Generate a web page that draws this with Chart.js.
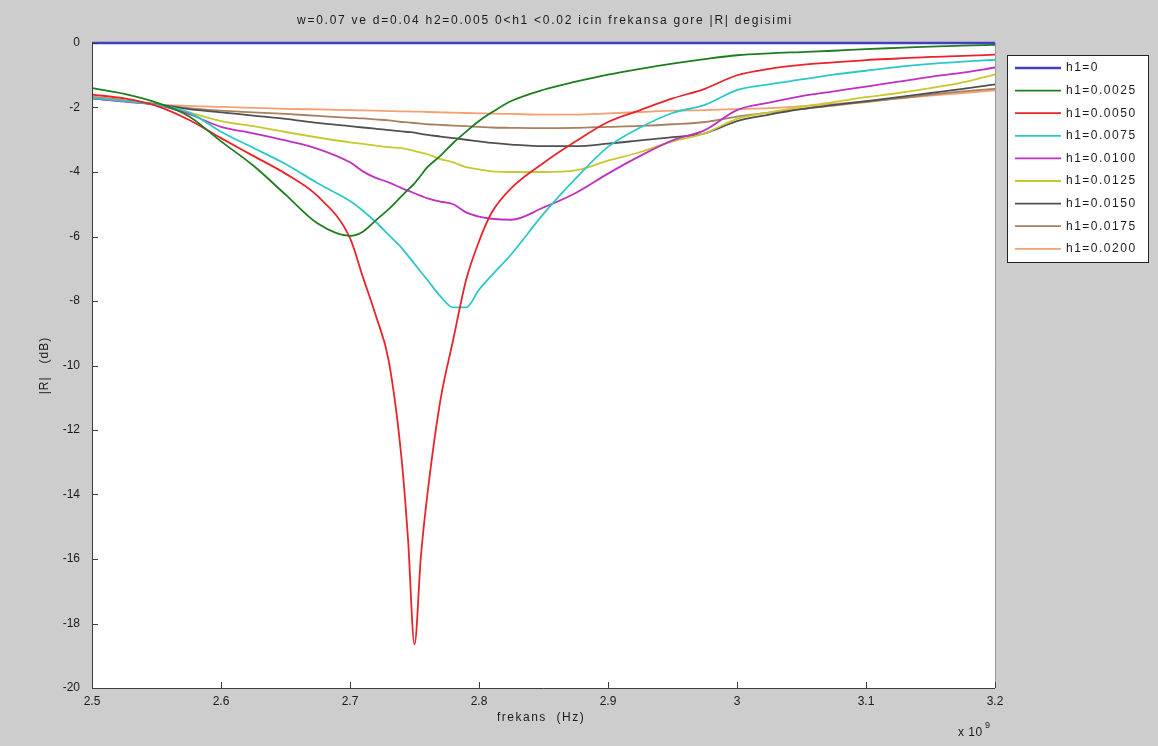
<!DOCTYPE html>
<html>
<head>
<meta charset="utf-8">
<script src="https://cdn.jsdelivr.net/npm/chart.js@4.4.0/dist/chart.umd.min.js"></script>
<style>
html,body{margin:0;padding:0;background:#cdcdcd;}
#wrap{width:1158px;height:746px;position:relative;}
</style>
</head>
<body>
<div id="wrap"><canvas id="c" width="1158" height="746"></canvas></div>
<script>
const titleText = "w=0.07 ve d=0.04 h2=0.005 0<h1 <0.02 icin frekansa gore |R| degisimi";
const xTitle = "frekans  (Hz)";
const yTitle = "|R|   (dB)";
const xTicks = [2.5, 2.6, 2.7, 2.8, 2.9, 3.0, 3.1, 3.2];
const yTicks = [0, -2, -4, -6, -8, -10, -12, -14, -16, -18, -20];
const labels = ["h1=0","h1=0.0025","h1=0.0050","h1=0.0075","h1=0.0100","h1=0.0125","h1=0.0150","h1=0.0175","h1=0.0200"];
const colors = ["#4040c0","#1e7d1e","#e8242a","#2cc8c8","#c030c0","#c8c830","#505050","#a88060","#f5a070"];

const freq = [2.5,2.525,2.55,2.575,2.6,2.625,2.65,2.675,2.7,2.71,2.72,2.73,2.74,2.745,2.75,2.755,2.76,2.77,2.78,2.79,2.8,2.81,2.825,2.85,2.875,2.9,2.925,2.95,2.975,3.0,3.025,3.05,3.075,3.1,3.125,3.15,3.175,3.2];

const h0 = [0,0,0,0,0,0,0,0,0,0,0,0,0,0,0,0,0,0,0,0,0,0,0,0,0,0,0,0,0,0,0,0,0,0,0,0,0,0];
const h0025 = [-1.40,-1.58,-1.85,-2.27,-3.05,-3.80,-4.70,-5.60,-5.98,-5.85,-5.50,-5.15,-4.75,-4.55,-4.35,-4.10,-3.85,-3.50,-3.10,-2.75,-2.42,-2.15,-1.80,-1.45,-1.20,-0.98,-0.80,-0.64,-0.50,-0.38,-0.32,-0.28,-0.24,-0.19,-0.15,-0.11,-0.08,-0.06];
const h0050 = [-1.60,-1.72,-1.95,-2.38,-2.95,-3.50,-4.05,-4.75,-6.05,-7.26,-8.45,-9.85,-12.9,-15.4,-18.65,-15.9,-14.0,-11.1,-9.2,-7.35,-6.15,-5.25,-4.50,-3.72,-3.05,-2.45,-2.08,-1.72,-1.42,-1.00,-0.80,-0.68,-0.60,-0.53,-0.48,-0.43,-0.40,-0.36];
const h0075 = [-1.70,-1.80,-1.92,-2.15,-2.75,-3.25,-3.75,-4.35,-4.90,-5.20,-5.55,-5.95,-6.35,-6.60,-6.85,-7.10,-7.35,-7.85,-8.20,-8.20,-7.65,-7.20,-6.55,-5.30,-4.20,-3.22,-2.62,-2.17,-1.92,-1.46,-1.28,-1.13,-0.98,-0.86,-0.74,-0.65,-0.58,-0.52];
const h0100 = [-1.72,-1.82,-1.92,-2.20,-2.60,-2.80,-3.02,-3.28,-3.70,-3.98,-4.18,-4.32,-4.50,-4.58,-4.66,-4.74,-4.82,-4.92,-5.00,-5.25,-5.38,-5.45,-5.48,-5.10,-4.65,-4.05,-3.50,-3.02,-2.70,-2.08,-1.85,-1.65,-1.50,-1.35,-1.20,-1.05,-0.92,-0.76];
const h0125 = [-1.70,-1.80,-1.92,-2.15,-2.42,-2.58,-2.76,-2.93,-3.08,-3.13,-3.18,-3.23,-3.26,-3.30,-3.35,-3.40,-3.45,-3.60,-3.70,-3.85,-3.92,-3.98,-4.00,-4.00,-3.95,-3.65,-3.38,-3.05,-2.80,-2.35,-2.15,-1.98,-1.83,-1.68,-1.55,-1.40,-1.22,-0.97];
const h0150 = [-1.72,-1.80,-1.90,-2.05,-2.15,-2.25,-2.35,-2.48,-2.58,-2.62,-2.66,-2.70,-2.74,-2.76,-2.78,-2.82,-2.85,-2.90,-2.95,-3.00,-3.05,-3.10,-3.15,-3.20,-3.20,-3.12,-3.02,-2.92,-2.80,-2.42,-2.22,-2.05,-1.92,-1.80,-1.68,-1.55,-1.42,-1.28];
const h0175 = [-1.68,-1.78,-1.90,-2.02,-2.10,-2.15,-2.20,-2.26,-2.32,-2.34,-2.37,-2.40,-2.45,-2.46,-2.48,-2.50,-2.52,-2.54,-2.56,-2.58,-2.60,-2.62,-2.63,-2.64,-2.63,-2.60,-2.57,-2.52,-2.45,-2.28,-2.16,-2.04,-1.94,-1.83,-1.72,-1.60,-1.50,-1.42];
const h0200 = [-1.65,-1.78,-1.90,-1.95,-1.98,-2.01,-2.04,-2.06,-2.08,-2.09,-2.10,-2.11,-2.12,-2.12,-2.13,-2.13,-2.14,-2.15,-2.16,-2.17,-2.18,-2.19,-2.20,-2.22,-2.22,-2.18,-2.14,-2.10,-2.08,-2.05,-2.02,-1.96,-1.89,-1.82,-1.72,-1.63,-1.55,-1.47];

const series = [h0,h0025,h0050,h0075,h0100,h0125,h0150,h0175,h0200];

const datasets = series.map((vals, i) => ({
  label: labels[i],
  data: freq.map((f, j) => ({x: f, y: vals[j]})),
  borderColor: colors[i],
  backgroundColor: colors[i],
  borderWidth: i === 0 ? 2.5 : 1.8,
  pointRadius: 0,
  cubicInterpolationMode: 'monotone',
  fill: false,
  clip: 3
}));

const FONT = "'Liberation Sans', Arial, sans-serif";

function spacedText(ctx, text, x, y, spacing) {
  if ('letterSpacing' in ctx) {
    ctx.letterSpacing = spacing + 'px';
    ctx.fillText(text, x, y);
    ctx.letterSpacing = '0px';
  } else {
    ctx.fillText(text, x, y);
  }
}

const decor = {
  id: 'decor',
  beforeDraw(chart) {
    const ctx = chart.ctx, a = chart.chartArea;
    ctx.save();
    ctx.fillStyle = '#cdcdcd';
    ctx.fillRect(0, 0, chart.width, chart.height);
    ctx.fillStyle = '#ffffff';
    ctx.fillRect(a.left, a.top, a.right - a.left, a.bottom - a.top);
    ctx.restore();
  },
  afterDraw(chart) {
    const ctx = chart.ctx, a = chart.chartArea;
    const xs = chart.scales.x, ys = chart.scales.y;
    ctx.save();
    ctx.strokeStyle = '#9a9a9a';
    ctx.lineWidth = 1;
    ctx.beginPath();
    ctx.moveTo(a.right + 0.5, a.top);
    ctx.lineTo(a.right + 0.5, a.bottom);
    ctx.stroke();
    ctx.strokeStyle = '#3c3c3c';
    ctx.beginPath();
    ctx.moveTo(a.left + 0.5, a.top);
    ctx.lineTo(a.left + 0.5, a.bottom + 0.5);
    ctx.lineTo(a.right, a.bottom + 0.5);
    ctx.stroke();
    ctx.beginPath();
    yTicks.forEach(v => {
      const y = Math.round(ys.getPixelForValue(v)) + 0.5;
      ctx.moveTo(a.left, y); ctx.lineTo(a.left + 6, y);
    });
    xTicks.forEach(v => {
      const x = Math.round(xs.getPixelForValue(v)) + 0.5;
      ctx.moveTo(x, a.bottom); ctx.lineTo(x, a.bottom - 6);
    });
    ctx.stroke();
    ctx.fillStyle = '#1a1a1a';
    ctx.font = '12px ' + FONT;
    ctx.textAlign = 'left';
    ctx.textBaseline = 'middle';
    spacedText(ctx, titleText, 297, 21, 1.75);
    spacedText(ctx, xTitle, 497, 718, 1.5);
    spacedText(ctx, 'x 10', 958, 733, 0.5);
    ctx.font = '9px ' + FONT;
    ctx.fillText('9', 985, 726);
    ctx.font = '12px ' + FONT;
    ctx.save();
    ctx.translate(45, (a.top + a.bottom) / 2);
    ctx.rotate(-Math.PI / 2);
    ctx.textAlign = 'center';
    spacedText(ctx, yTitle, 0, 0, 1);
    ctx.restore();
    const lx = 1007, ly = 55, lw = 141, lh = 207;
    ctx.fillStyle = '#ffffff';
    ctx.fillRect(lx, ly, lw, lh);
    ctx.strokeStyle = '#222';
    ctx.lineWidth = 1;
    ctx.strokeRect(lx + 0.5, ly + 0.5, lw, lh);
    ctx.font = '12px ' + FONT;
    ctx.textAlign = 'left';
    ctx.textBaseline = 'middle';
    chart.data.datasets.forEach((ds, i) => {
      const y = 68 + i * 22.6;
      ctx.strokeStyle = ds.borderColor;
      ctx.lineWidth = i === 0 ? 2.5 : 1.8;
      ctx.beginPath();
      ctx.moveTo(1015, y); ctx.lineTo(1061, y);
      ctx.stroke();
      ctx.fillStyle = '#1a1a1a';
      spacedText(ctx, ds.label, 1066, y, 1.5);
    });
    ctx.restore();
  }
};

new Chart(document.getElementById('c'), {
  type: 'line',
  data: { datasets },
  options: {
    responsive: false,
    animation: false,
    events: [],
    layout: { padding: { left: 0, top: 43, right: 163, bottom: 0 } },
    plugins: { legend: { display: false }, tooltip: { enabled: false }, title: { display: false } },
    scales: {
      x: {
        type: 'linear', min: 2.5, max: 3.2,
        afterBuildTicks: s => { s.ticks = xTicks.map(v => ({ value: v })); },
        afterFit: s => { s.height = 58; },
        grid: { display: false, drawTicks: false },
        border: { display: false },
        ticks: { padding: 6, color: '#1a1a1a', font: { family: FONT, size: 12 },
          callback: v => String(Number(v.toFixed(1))) }
      },
      y: {
        type: 'linear', min: -20, max: 0,
        afterBuildTicks: s => { s.ticks = yTicks.map(v => ({ value: v })); },
        afterFit: s => { s.width = 92; },
        grid: { display: false, drawTicks: false },
        border: { display: false },
        ticks: { padding: 12, color: '#1a1a1a', font: { family: FONT, size: 12 },
          callback: v => String(v) }
      }
    }
  },
  plugins: [decor]
});
</script>
</body>
</html>
